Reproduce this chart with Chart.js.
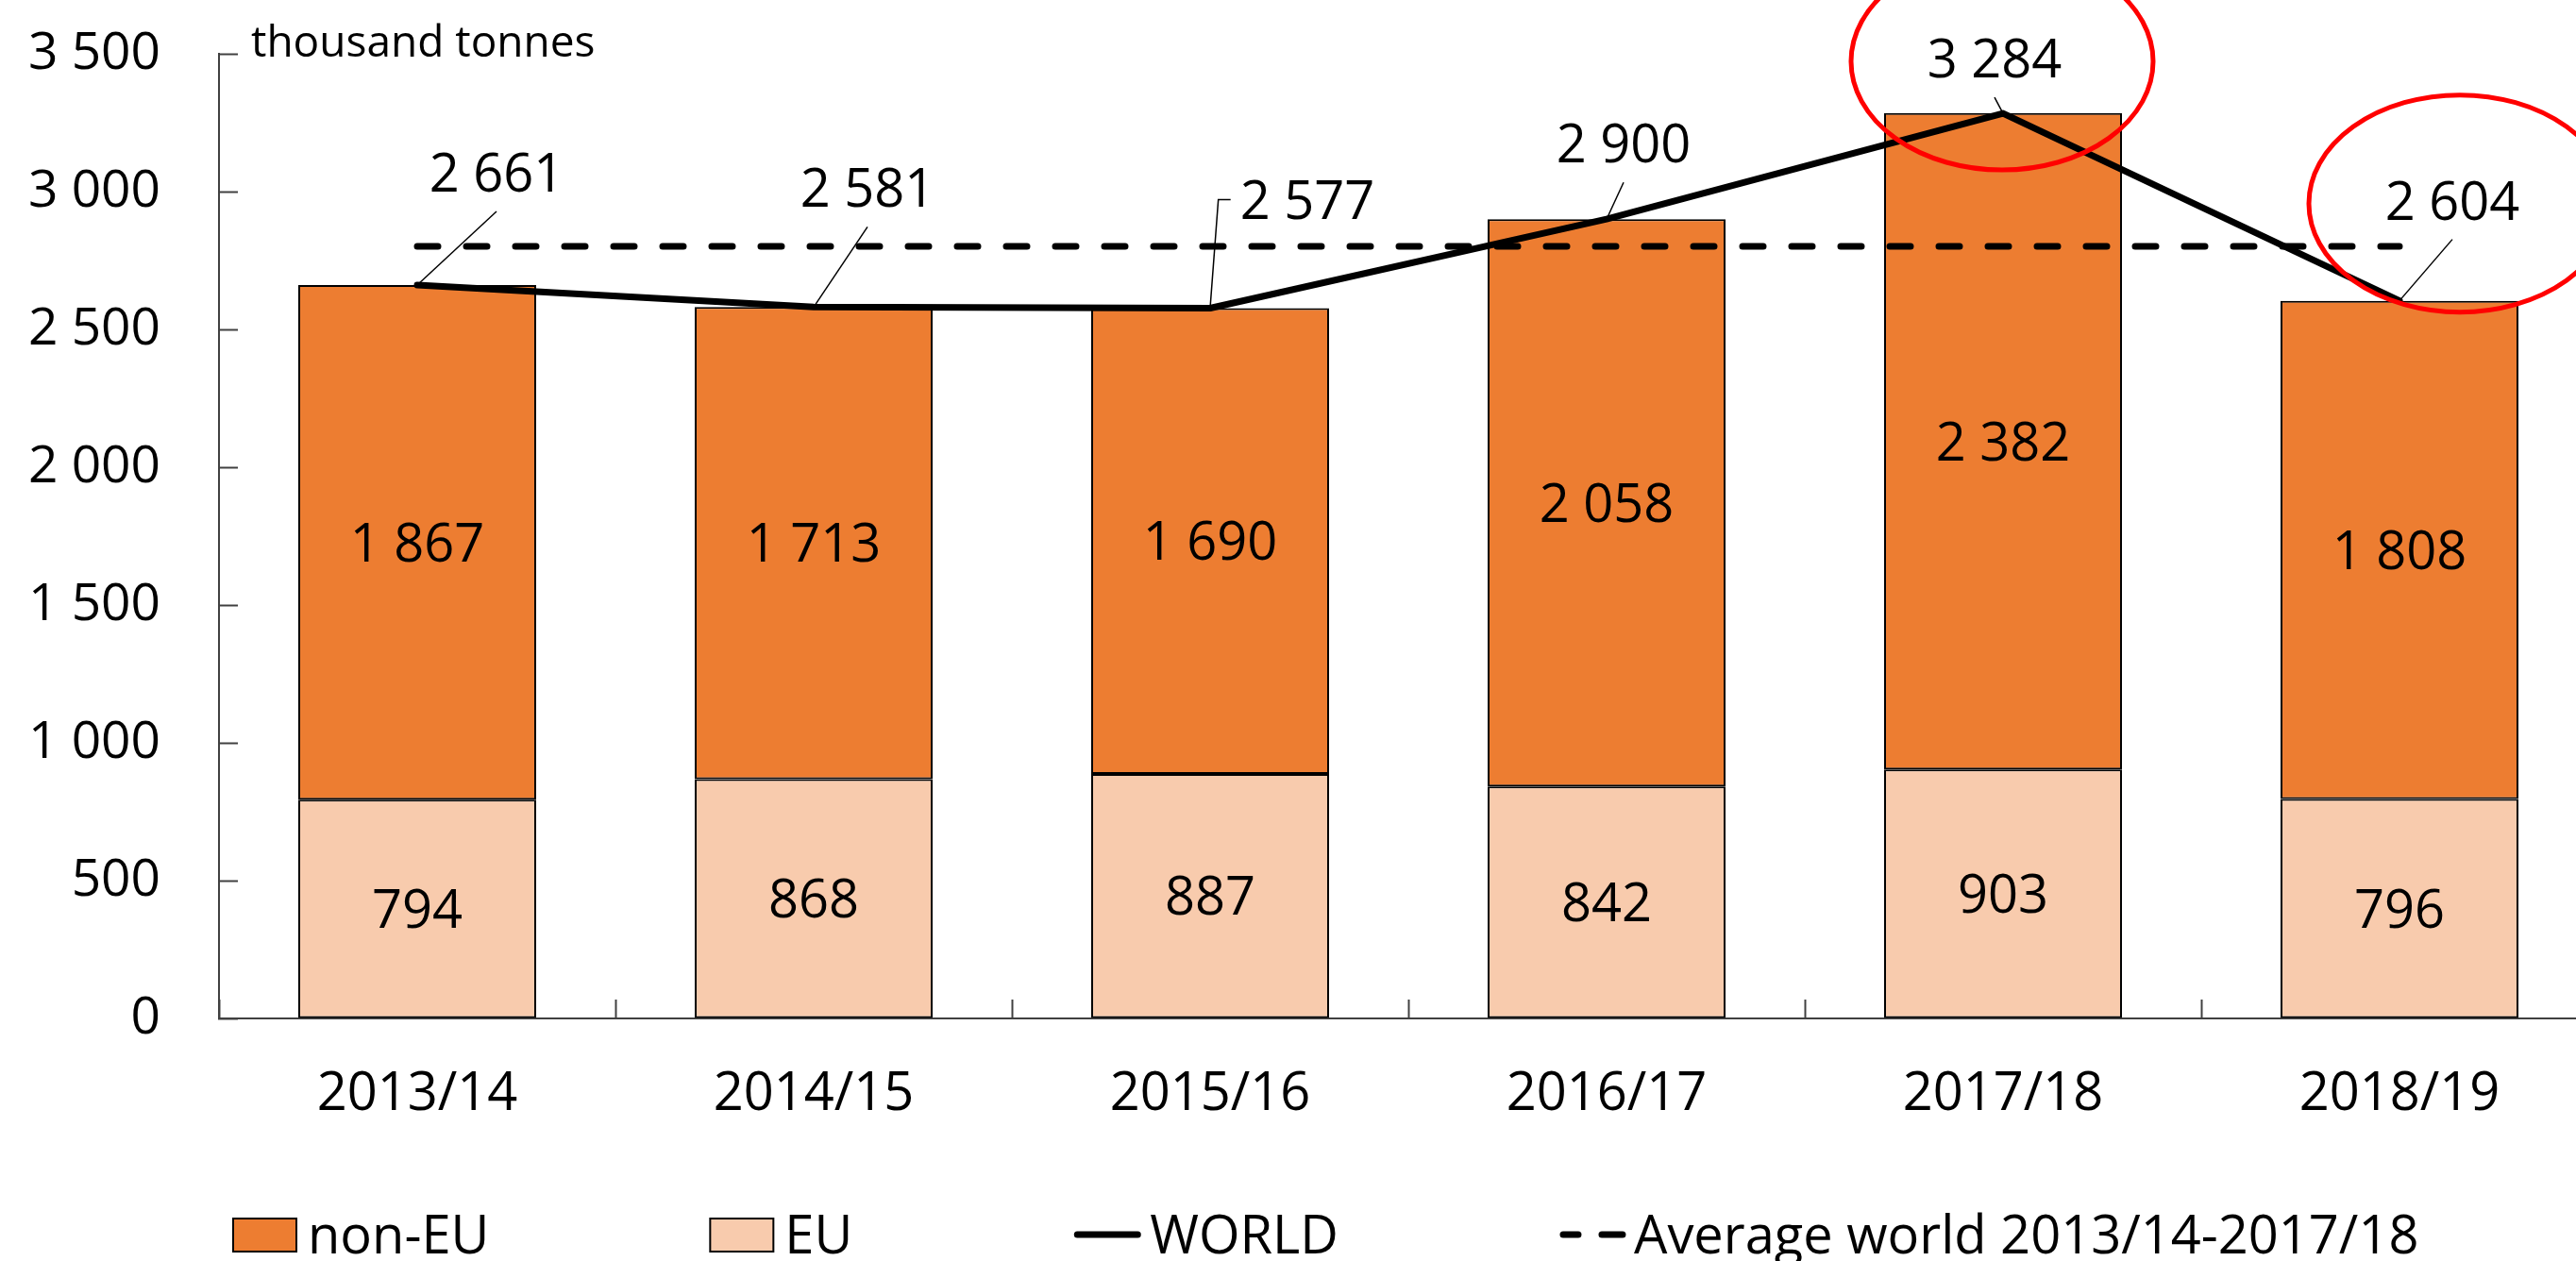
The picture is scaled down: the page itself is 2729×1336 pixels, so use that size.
<!DOCTYPE html>
<html lang="en">
<head>
<meta charset="utf-8">
<title>EU / non-EU - thousand tonnes</title>
<script src="https://cdn.jsdelivr.net/npm/chart.js"></script>
<style>
  html, body { margin: 0; padding: 0; background: #fff; overflow: hidden; }
  /* the plot runs a little past the right edge of the window, as in the original */
  #wrap { width: 2760px; height: 1336px; position: relative; }
</style>
</head>
<body>
<div id="wrap"><canvas id="grafico"></canvas></div>
<script>
// --- Data ---
const categories = ["2013/14", "2014/15", "2015/16", "2016/17", "2017/18", "2018/19"];
const euValues = [794, 868, 887, 842, 903, 796];
const nonEuValues = [1867, 1713, 1690, 2058, 2382, 1808];
const worldValues = [2661, 2581, 2577, 2900, 3284, 2604];
const averageValues = [2801, 2801, 2801, 2801, 2801, 2801];
const yTicks = [0, 500, 1000, 1500, 2000, 2500, 3000, 3500];

// --- Label placement for the WORLD values (px from each point) ---
const worldLabelOffsets = [[84, -119], [57, -126], [103, -115], [18, -80], [-9, -58], [56, -106]];
const worldLeaderSide = ["below", "below", "left", "below", "below", "below"];
const circledPoints = [4, 5];

const FONT = "'Open Sans', 'Noto Sans', sans-serif";
const ORANGE = "#ED7D31";
const PEACH = "#F8CBAD";
const AXIS = "#404040";

function formatNumber(v) {
  return String(v).replace(/\B(?=(\d{3})+(?!\d))/g, " ");
}

// text centred on its cap height
function drawCapText(ctx, text, x, cy, size, align) {
  ctx.font = size + "px " + FONT;
  ctx.textAlign = align || "center";
  ctx.textBaseline = "alphabetic";
  ctx.fillText(text, x, cy + size * 0.357);
}

// --- Plugins ---
const etiquetasPlugin = {
  id: "etiquetas",
  afterDatasetsDraw(chart) {
    const ctx = chart.ctx;
    ctx.save();
    ctx.fillStyle = "#000";

    // values inside the stacked segments
    [0, 1].forEach(di => {
      chart.getDatasetMeta(di).data.forEach((bar, i) => {
        const cy = (bar.y + bar.base) / 2;
        drawCapText(ctx, formatNumber(chart.data.datasets[di].data[i]), bar.x, cy, 56);
      });
    });

    // WORLD values with leader lines
    chart.getDatasetMeta(2).data.forEach((pt, i) => {
      const text = formatNumber(worldValues[i]);
      const lx = pt.x + worldLabelOffsets[i][0];
      const ly = pt.y + worldLabelOffsets[i][1];
      ctx.strokeStyle = "#000";
      ctx.lineWidth = 1.5;
      ctx.beginPath();
      ctx.moveTo(pt.x, pt.y);
      if (worldLeaderSide[i] === "left") {
        ctx.font = "56px " + FONT;
        const ex = lx - ctx.measureText(text).width / 2 - 10;
        ctx.lineTo(ex - 13, ly);
        ctx.lineTo(ex, ly);
      } else {
        ctx.lineTo(lx, ly + 41);
      }
      ctx.stroke();
      drawCapText(ctx, text, lx, ly, 56);
    });
    ctx.restore();
  },
  afterDraw(chart) {
    const ctx = chart.ctx;
    ctx.save();

    // unit
    ctx.fillStyle = "#000";
    ctx.font = "46px " + FONT;
    ctx.textAlign = "left";
    ctx.textBaseline = "alphabetic";
    ctx.fillText("thousand tonnes", 266, 60);

    // red ellipses round the last two WORLD values
    const world = chart.getDatasetMeta(2).data;
    ctx.strokeStyle = "#FF0000";
    ctx.lineWidth = 5;
    circledPoints.forEach(i => {
      const cx = world[i].x + worldLabelOffsets[i][0] + 8;
      const cy = world[i].y + worldLabelOffsets[i][1] + 3;
      ctx.beginPath();
      ctx.ellipse(cx, cy, 160, 115, 0, 0, Math.PI * 2);
      ctx.stroke();
    });

    dibujarLeyenda(chart, ctx);
    ctx.restore();
  }
};

function dibujarLeyenda(chart, ctx) {
  const ds = chart.data.datasets;
  const items = [
    { kind: "box", label: ds[1].label, color: ds[1].backgroundColor },
    { kind: "box", label: ds[0].label, color: ds[0].backgroundColor },
    { kind: "line", label: ds[2].label },
    { kind: "dash", label: ds[3].label }
  ];
  const y = 1308;
  const size = 56;
  let x = 247;
  ctx.font = size + "px " + FONT;
  items.forEach(item => {
    ctx.strokeStyle = "#000";
    if (item.kind === "box") {
      ctx.fillStyle = item.color;
      ctx.fillRect(x, y - 17, 67, 35);
      ctx.lineWidth = 2;
      ctx.strokeRect(x, y - 17, 67, 35);
      x += 79;
    } else if (item.kind === "line") {
      ctx.lineWidth = 7;
      ctx.lineCap = "round";
      ctx.beginPath();
      ctx.moveTo(x + 4, y);
      ctx.lineTo(x + 68, y);
      ctx.stroke();
      x += 81;
    } else {
      ctx.lineWidth = 7;
      ctx.lineCap = "round";
      ctx.beginPath();
      ctx.moveTo(x + 4, y);
      ctx.lineTo(x + 20, y);
      ctx.moveTo(x + 45, y);
      ctx.lineTo(x + 67, y);
      ctx.stroke();
      x += 79;
    }
    ctx.fillStyle = "#000";
    drawCapText(ctx, item.label, x, y, size, "left");
    ctx.font = size + "px " + FONT;
    x += ctx.measureText(item.label).width + 234;
  });
}

// --- Chart ---
new Chart(document.getElementById("grafico"), {
  type: "bar",
  data: {
    labels: categories,
    datasets: [
      {
        label: "EU",
        data: euValues,
        backgroundColor: PEACH,
        borderColor: "#000",
        borderWidth: 2,
        borderSkipped: false,
        categoryPercentage: 0.6,
        barPercentage: 1,
        stack: "bars",
        order: 2
      },
      {
        label: "non-EU",
        data: nonEuValues,
        backgroundColor: ORANGE,
        borderColor: "#000",
        borderWidth: 2,
        borderSkipped: false,
        categoryPercentage: 0.6,
        barPercentage: 1,
        stack: "bars",
        order: 2
      },
      {
        type: "line",
        label: "WORLD",
        data: worldValues,
        borderColor: "#000",
        borderWidth: 7,
        borderJoinStyle: "round",
        borderCapStyle: "round",
        pointRadius: 0,
        tension: 0,
        stack: "world",
        order: 0
      },
      {
        type: "line",
        label: "Average world 2013/14-2017/18",
        data: averageValues,
        borderColor: "#000",
        borderWidth: 7,
        borderDash: [22, 30],
        borderCapStyle: "round",
        pointRadius: 0,
        stack: "avg",
        order: 1
      }
    ]
  },
  options: {
    responsive: true,
    maintainAspectRatio: false,
    animation: false,
    layout: { padding: { top: 57, right: 8, bottom: 0, left: 0 } },
    plugins: {
      legend: { display: false },
      tooltip: { enabled: false }
    },
    scales: {
      x: {
        stacked: true,
        grid: { drawOnChartArea: false, drawTicks: true, tickLength: -20, color: AXIS, tickWidth: 2, offset: true },
        border: { display: true, color: AXIS, width: 2 },
        ticks: { color: "#000", font: { family: FONT, size: 56 }, padding: 67, maxRotation: 0, autoSkip: false },
        afterFit(scale) { scale.height = 257; scale.paddingLeft = 0; scale.paddingRight = 0; }
      },
      y: {
        stacked: true,
        min: 0,
        max: 3500,
        afterBuildTicks(scale) { scale.ticks = yTicks.map(v => ({ value: v })); },
        grid: { drawOnChartArea: false, drawTicks: true, tickLength: -20, color: AXIS, tickWidth: 2 },
        border: { display: true, color: AXIS, width: 2 },
        ticks: { color: "#000", font: { family: FONT, size: 55 }, padding: 82, callback: v => formatNumber(v) },
        afterFit(scale) { scale.width = 232; scale.paddingTop = 0; scale.paddingBottom = 0; }
      }
    }
  },
  plugins: [etiquetasPlugin]
});
</script>
</body>
</html>
